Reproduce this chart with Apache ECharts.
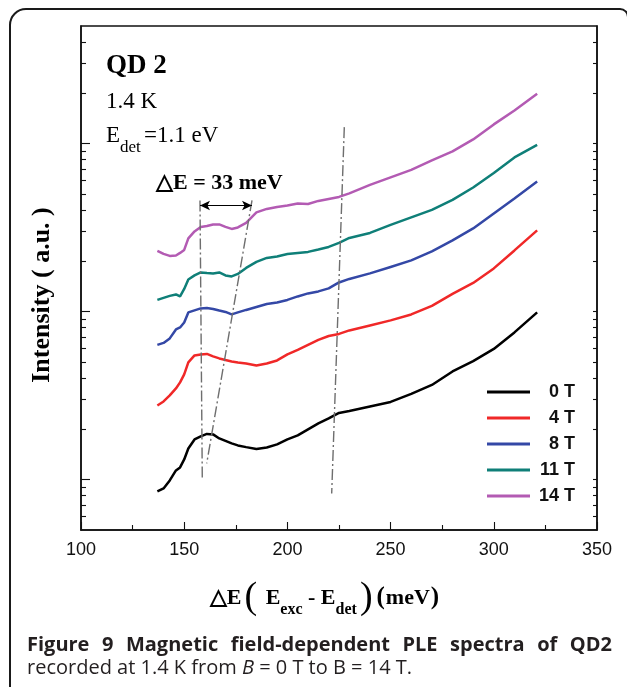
<!DOCTYPE html>
<html><head><meta charset="utf-8">
<script src="https://cdn.jsdelivr.net/npm/echarts@6/dist/echarts.min.js"></script>
<style>html,body{margin:0;padding:0;background:#fff}#c{width:627px;height:687px}</style>
</head><body><div id="c"></div>
<script>
// ---- data ----
const xValues = [137,140,143,146,148,150,152,155,158,161,164,167,170,173,176,180,185,190,195,200,205,210,215,220,225,230,240,250,260,270,280,290,300,310,321];
const field0T = [0.848,0.884,0.986,1.131,1.179,1.315,1.529,1.730,1.803,1.866,1.853,1.754,1.695,1.638,1.594,1.557,1.519,1.550,1.616,1.730,1.828,1.985,2.154,2.307,2.488,2.557,2.720,2.893,3.228,3.652,4.394,5.061,5.981,7.499,9.864];
const field4T = [2.757,2.912,3.162,3.480,3.780,4.217,4.971,5.471,5.546,5.585,5.397,5.251,5.144,5.040,4.971,4.903,4.770,4.903,5.109,5.546,5.899,6.320,6.767,7.138,7.347,7.708,8.254,8.842,9.597,10.783,12.713,14.776,18.03,23.07,30.35];
const field8T = [6.320,6.494,6.908,7.814,8.030,8.601,9.864,10.138,10.420,10.492,10.349,10.138,9.932,9.597,9.864,10.208,10.636,11.081,11.312,11.706,12.282,12.800,13.155,13.707,14.877,15.61,16.84,18.40,20.12,22.76,26.46,31.19,38.31,47.05,59.40];
const field11T = [11.706,12.032,12.37,12.626,12.282,13.61,15.5,16.38,17.07,16.95,16.84,17.07,16.38,16.16,16.72,18.15,19.71,20.82,21.25,21.99,22.30,22.61,23.39,24.21,25.57,27.38,29.33,32.73,36.27,40.20,46.10,54.70,66.74,82.54,97.97];
const field14T = [22.91,21.99,21.40,21.54,22.30,23.23,27.20,29.94,31.84,32.28,32.95,32.95,31.84,30.98,31.62,33.64,38.84,40.75,41.88,42.75,43.94,43.64,45.48,46.73,48.03,50.40,56.62,62.76,69.55,79.2,89.6,105.6,129.8,157.2,197.6];
const seriesNames = ['0 T','4 T','8 T','11 T','14 T'];
const seriesValues = [field0T, field4T, field8T, field11T, field14T];
const seriesColors = ['#000000','#f02828','#3448a6','#0f7f78','#b35bb3'];
const xMin = 100, xMax = 350, xStep = 50;
const yMin = 0.5, yMax = 500;
const yMajorTicks = [1,10,100];
const yMinorTicks = [0.6,0.7,0.8,0.9,2,3,4,5,6,7,8,9,20,30,40,50,60,70,80,90,200,300,400];
// guide lines (dash-dot) and the 33 meV arrow, in data units
const guideLines = [[[157.65,45.8],[158.77,0.986]],[[182.85,45.8],[160.9,1.245]],[[227.57,125],[221.46,0.825]]];
const arrowSpan = [[157.65,42.7],[182.85,42.7]];

const chart = echarts.init(document.getElementById('c'), null, {renderer:'canvas'});
const serif = '"Liberation Serif","Times New Roman",serif';
const sans = '"Liberation Sans",Arial,sans-serif';
const capFamily = '"Open Sans",sans-serif';

const series = seriesNames.map((n,i)=>({
  name:n, type:'line', symbol:'none', smooth:false, animation:false,
  data: xValues.map((x,j)=>[x, seriesValues[i][j]]),
  lineStyle:{color:seriesColors[i], width:2.5}, itemStyle:{color:seriesColors[i]}
}));
const guideStyle = {color:'#6e6e6e', width:1.4, type:[11,3,2,3]};
series.push({
  name:'guides', type:'line', data:[], silent:true,
  markLine:{silent:true, animation:false, symbol:['none','none'], label:{show:false},
    data: guideLines.map(g=>[{coord:g[0], lineStyle:guideStyle},{coord:g[1]}]).concat([
      [{coord:arrowSpan[0], symbol:'arrow', symbolSize:[7,10], lineStyle:{color:'#000', width:1.2, type:'solid'}},{coord:arrowSpan[1], symbol:'arrow', symbolSize:[7,10]}]
    ])
  }
});

function yAx(pos, ticks, len, line){
  return {type:'log', logBase:10, min:yMin, max:yMax, position:pos,
    axisLine:{show:line, lineStyle:{color:'#111', width:1.5}},
    axisTick:{show:true, inside:true, length:len, customValues:ticks, lineStyle:{color:'#111', width:1.1}},
    axisLabel:{show:false}, splitLine:{show:false}, minorTick:{show:false}};
}

// caption, justified first line
const capLeft = 27, capRight = 612;
const capWords = 'Figure 9 Magnetic field-dependent PLE spectra of QD2'.split(' ');
const capSize = 20;
const mctx = document.createElement('canvas').getContext('2d');
mctx.font = 'bold ' + capSize + 'px "Open Sans"';
const widths = capWords.map(w=>mctx.measureText(w).width);
const gap = (capRight-capLeft-widths.reduce((a,b)=>a+b,0))/(capWords.length-1);
const capEls = []; let cx = capLeft;
capWords.forEach((w,i)=>{ capEls.push({type:'text', x:cx, y:645, silent:true, style:{text:w, fill:'#231f20', textVerticalAlign:'middle', fontSize:capSize, fontWeight:'bold', fontFamily:capFamily}}); cx += widths[i]+gap; });

const graphics = [
  {type:'rect', shape:{x:10, y:9, width:618, height:700, r:[16,8,0,0]}, style:{fill:'none', stroke:'#1a1a1a', lineWidth:2}, silent:true},
  {type:'text', x:106, y:66, style:{text:'QD 2', fontSize:27, fontWeight:'bold', fontFamily:serif, fill:'#000', textVerticalAlign:'middle'}},
  {type:'text', x:106, y:102, style:{text:'1.4 K', fontSize:23, fontFamily:serif, fill:'#000', textVerticalAlign:'middle'}},
  {type:'text', x:106, y:136, style:{text:'E', fontSize:23, fontFamily:serif, fill:'#000', textVerticalAlign:'middle'}},
  {type:'text', x:120, y:148, style:{text:'det', fontSize:17, fontFamily:serif, fill:'#000', textVerticalAlign:'middle'}},
  {type:'text', x:144, y:136, style:{text:'=1.1 eV', fontSize:23, fontFamily:serif, fill:'#000', textVerticalAlign:'middle'}},
  {type:'text', x:156, y:183, style:{text:'\u25B3E = 33 meV', fontSize:22, fontWeight:'bold', fontFamily:serif, fill:'#000', textVerticalAlign:'middle'}},
  {type:'text', x:42, y:295, rotation:Math.PI/2, style:{text:'Intensity ( a.u. )', fontSize:26, fontWeight:'bold', fontFamily:serif, fill:'#000', textAlign:'center', textVerticalAlign:'middle'}},
  {type:'text', x:325, y:598, style:{
    text:'{t|\u25B3E}{p|(}{e| E}{s|exc}{e| - E}{s|det}{p|)}{q|(}{e|meV}{q|)}',
    textAlign:'center', textVerticalAlign:'middle',
    rich:{
      t:{fontSize:22, fontWeight:'bold', fontFamily:serif, lineHeight:40, verticalAlign:'middle', fill:'#000'},
      e:{fontSize:22, fontWeight:'bold', fontFamily:serif, lineHeight:40, verticalAlign:'middle', fill:'#000'},
      s:{fontSize:16, fontWeight:'bold', fontFamily:serif, lineHeight:16, verticalAlign:'bottom', fill:'#000'},
      p:{fontSize:38, fontFamily:serif, lineHeight:40, verticalAlign:'middle', fill:'#000', padding:[0,3,0,3]},
      q:{fontSize:25, fontWeight:'bold', fontFamily:serif, lineHeight:40, verticalAlign:'middle', fill:'#000', padding:[0,1,0,1]}
    }}},
  {type:'text', x:capLeft, y:668, style:{
    text:'{r|recorded at 1.4 K from }{i|B}{r| = 0 T to B = 14 T.}',
    textVerticalAlign:'middle',
    rich:{r:{fontSize:20, fontFamily:capFamily, fill:'#231f20'}, i:{fontSize:20, fontStyle:'italic', fontFamily:capFamily, fill:'#231f20'}}}}
].concat(capEls);

chart.setOption({
  animation:false,
  backgroundColor:'#fff',
  grid:{left:81, right:30, top:26, bottom:157, show:true, borderColor:'#111', borderWidth:1.5, backgroundColor:'transparent'},
  xAxis:{type:'value', min:xMin, max:xMax, interval:xStep, position:'bottom',
    axisLine:{show:true, lineStyle:{color:'#111', width:1.5}},
    axisTick:{show:true, inside:true, length:8, lineStyle:{color:'#111', width:1.1}},
    minorTick:{show:true, splitNumber:2, length:5, lineStyle:{color:'#111', width:1.1}},
    axisLabel:{fontSize:18, color:'#111', fontFamily:sans, margin:11},
    splitLine:{show:false}},
  yAxis:[yAx('left', yMajorTicks, 9, true), yAx('left', yMinorTicks, 5, false), yAx('right', yMajorTicks.concat(yMinorTicks), 4, true)],
  legend:{orient:'vertical', left:482, top:378, itemWidth:43, itemHeight:14, itemGap:8, data:seriesNames,
    selectedMode:false,
    icon:'path://M0,0H43V3H0Z',
    formatter:n=>'{a|'+n+'}',
    textStyle:{rich:{a:{width:40, align:'right', fontSize:18, fontWeight:'bold', fontFamily:sans, color:'#111'}}}},
  series:series,
  graphic:graphics
});
</script></body></html>
